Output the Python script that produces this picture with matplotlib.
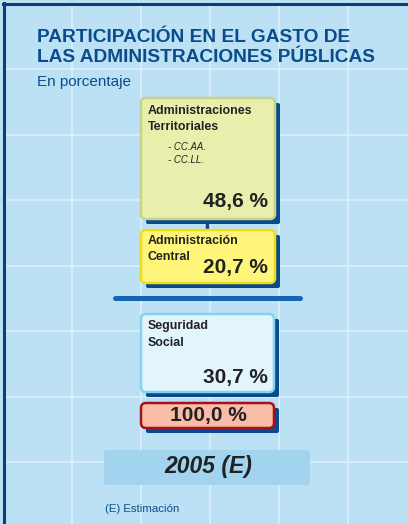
import matplotlib
matplotlib.use("Agg")
import matplotlib.pyplot as plt
from matplotlib.patches import FancyBboxPatch, Rectangle

# ---- data ----
title_lines = ["PARTICIPACIÓN EN EL GASTO DE", "LAS ADMINISTRACIONES PÚBLICAS"]
subtitle = "En porcentaje"
categories = [["Administraciones", "Territoriales"], ["Administración", "Central"], ["Seguridad", "Social"]]
sub_items = ["- CC.AA.", "- CC.LL."]
shares = [48.6, 20.7, 30.7]
total = 100.0
year_label = "2005 (E)"
footnote = "(E) Estimación"

def fmt(v):
    return f"{v:.1f}".replace(".", ",") + " %"

W, H = 408, 524
fig = plt.figure(figsize=(W / 100, H / 100), dpi=100)
ax = fig.add_axes([0, 0, 1, 1])
ax.set_xlim(0, W)
ax.set_ylim(H, 0)
ax.axis("off")

BG = "#bce0f4"
GRID = "#dcf0fb"
NAVY = "#0b4c8c"
SHADOW = "#0a4a8c"
TXT = "#222222"
FONT = "Liberation Sans"

ax.add_patch(Rectangle((0, 0), W, H, facecolor=BG, edgecolor="none", zorder=0))
for gx in [72, 141, 210, 279, 348]:
    ax.plot([gx, gx], [4, H], color=GRID, lw=1.2, zorder=1)
for gy in [69, 134.5, 200, 265.5, 331, 396.5, 462]:
    ax.plot([4, W], [gy, gy], color=GRID, lw=1.2, zorder=1)
# frame (left and top)
ax.plot([4, 4], [3, H], color="#0a3f7a", lw=2.2, zorder=2)
ax.plot([3, W], [4, 4], color="#0a3f7a", lw=2.2, zorder=2)

# title
ax.text(37, 37, title_lines[0], fontsize=13.8, fontweight="bold", color=NAVY,
        family=FONT, va="center", ha="left", zorder=5)
ax.text(37, 57, title_lines[1], fontsize=13.8, fontweight="bold", color=NAVY,
        family=FONT, va="center", ha="left", zorder=5)
ax.text(37, 82, subtitle, fontsize=11, color=NAVY, family=FONT, va="center", ha="left", zorder=5)


def box(x0, y0, x1, y1, fc, ec, shadow=True, lw=1.8, r=5):
    if shadow:
        ax.add_patch(FancyBboxPatch((x0 + 5, y0 + 5), (x1 - x0), (y1 - y0),
                                    boxstyle="round,pad=0,rounding_size=2",
                                    facecolor=SHADOW, edgecolor="none", zorder=3))
    ax.add_patch(FancyBboxPatch((x0, y0), (x1 - x0), (y1 - y0),
                                boxstyle=f"round,pad=0,rounding_size={r}",
                                facecolor=fc, edgecolor=ec, lw=lw, zorder=4))

# connector between territorial and central
ax.plot([207, 207], [220, 230], color=SHADOW, lw=2.5, zorder=2)

# boxes
box(141, 98, 275, 219, "#e8eeac", "#c4d48a")
box(141, 230, 275, 283, "#fff57a", "#f0dc1e")
box(141, 314, 274, 392, "#e2f4fc", "#86d2f2")
box(141, 403, 274, 428, "#f9bca6", "#a8101e")
box(104, 450, 310, 485, "#a2d4f0", "none", shadow=False, lw=0, r=3)

# separator
ax.plot([115, 300], [298, 298], color="#1464b4", lw=3.6, solid_capstyle="round", zorder=3)

lab_kw = dict(fontsize=8.9, fontweight="bold", color=TXT, family=FONT, ha="left", va="center", zorder=6)
pct_kw = dict(fontsize=15, fontweight="bold", color=TXT, family=FONT, ha="right", va="center", zorder=6)
sub_kw = dict(fontsize=6.9, style="italic", color=TXT, family=FONT, ha="left", va="center", zorder=6)

# territorial
ax.text(148, 111, categories[0][0], **lab_kw)
ax.text(148, 127, categories[0][1], **lab_kw)
ax.text(168, 147, sub_items[0], **sub_kw)
ax.text(168, 160, sub_items[1], **sub_kw)
ax.text(268, 201, fmt(shares[0]), **pct_kw)

# central
ax.text(148, 241, categories[1][0], **lab_kw)
ax.text(148, 257, categories[1][1], **lab_kw)
ax.text(268, 267, fmt(shares[1]), **pct_kw)

# social security
ax.text(148, 326, categories[2][0], **lab_kw)
ax.text(148, 343, categories[2][1], **lab_kw)
ax.text(268, 377, fmt(shares[2]), **pct_kw)

# total
ax.text(208, 416, fmt(total), fontsize=15, fontweight="bold", color=TXT, family=FONT,
        ha="center", va="center", zorder=6)

# year
ax.text(208, 467, year_label, fontsize=16.5, fontweight="bold", style="italic", color=TXT,
        family=FONT, ha="center", va="center", zorder=6)

ax.text(105, 509, footnote, fontsize=8.2, color=NAVY, family=FONT, ha="left", va="center", zorder=6)

fig.savefig("out.png", dpi=100, facecolor=BG)
